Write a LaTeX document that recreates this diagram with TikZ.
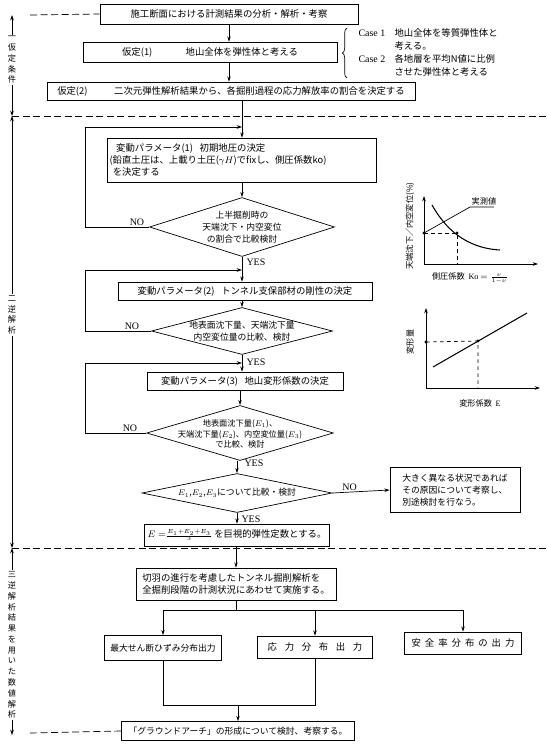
\documentclass[tikz,border=0pt]{standalone}
\usepackage{fontspec}
\setmainfont{Noto Sans CJK JP}
\newfontfamily\lat{Liberation Serif}
\usepackage{tikz}
\usetikzlibrary{shapes.geometric}
\usetikzlibrary{arrows.meta}
\usetikzlibrary{positioning}
\usetikzlibrary{decorations.pathreplacing}

\begin{document}
\begin{tikzpicture}[x=0.3mm, y=-0.3mm, line width=0.6pt, >={Stealth[length=4.5pt,width=3pt]},
  every node/.style={font=\fontsize{8}{10}\selectfont, inner sep=1pt},
  box/.style={draw, minimum height=5.4mm, inner sep=2pt},
  dmd/.style={draw, diamond, inner sep=0pt},
  dtxt/.style={align=center, font=\fontsize{7.5}{10}\selectfont},
  yn/.style={font=\lat\fontsize{8.5}{10}\selectfont},
  vtxt/.style={fill=white, align=center, font=\fontsize{7}{9.2}\selectfont, inner sep=1pt},
  sep/.style={dash pattern=on 6pt off 3pt}]
  \useasboundingbox (0,0) rectangle (547,747);

  % assumptions
  \node (top)  [box, minimum width=77.4mm, minimum height=6mm] at (229,14) {施工断面における計測結果の分析・解析・考察};
  \node (asm1) [box, minimum width=76.2mm, minimum height=6mm] at (210,52) {仮定(1)\hspace{10mm}地山全体を弾性体と考える};
  \node (asm2) [box, minimum width=110.4mm] at (231,91) {仮定(2)\hspace{8mm}二次元弾性解析結果から、各掘削過程の応力解放率の割合を決定する};
  \draw[->] (top.south) -- (top.south |- asm1.north);
  \draw[->] (top.south |- asm1.south) -- (top.south |- asm2.north);

  \draw[decorate, decoration={brace, amplitude=4pt}] (347,78) -- (347,28);
  \node (c1)  [yn, anchor=west] at (357,33) {Case 1};
  \node (c1a) [anchor=west] at (393,33) {地山全体を等質弾性体と};
  \node (c1b) [anchor=west] at (393,46) {考える。};
  \node (c2)  [yn, anchor=west] at (357,59) {Case 2};
  \node (c2a) [anchor=west] at (393,59) {各地層を平均N値に比例};
  \node (c2b) [anchor=west] at (393,72) {させた弾性体と考える};

  % back analysis
  \node (p1) [box, align=left, text width=79.5mm, minimum height=13.2mm] at (242,160)
    {\hspace{2mm}変動パラメータ(1)\hspace{2mm}初期地圧の決定\\
     (鉛直土圧は、上載り土圧($\gamma H$)でfixし、側圧係数ko)\\
     \hspace{1mm}を決定する};
  \coordinate (m1) at (242,127);
  \draw[->] (asm2.south -| p1.north) -- (p1.north);

  \node (d1) [dmd, minimum width=55.5mm, minimum height=17.7mm] at (242,227) {};
  \node (d1t) [dtxt] at (d1) {上半掘削時の\\天端沈下・内空変位\\の割合で比較検討};
  \draw[->] (p1.south -| d1.north) -- (d1.north);
  \node (no1) [yn] at (137,222) {NO};
  \draw[->] (d1.west) -| (85,127) -- (m1);
  \node (yes1) [yn, anchor=west] at (245,262) {YES};

  \node (p2) [box, minimum width=76.2mm] at (245,291) {変動パラメータ(2)\hspace{2mm}トンネル支保部材の剛性の決定};
  \coordinate (m2) at (242,270);
  \draw[->] (d1.south) -- (d1.south |- p2.north);

  \node (d2) [dmd, minimum width=54.3mm, minimum height=14.1mm] at (242,331) {};
  \node (d2t) [dtxt] at (d2) {地表面沈下量、天端沈下量\\内空変位量の比較、検討};
  \draw[->] (d1.south |- p2.south) -- (d2.north);
  \node (no2) [yn] at (132,326) {NO};
  \draw[->] (d2.west) -| (85,270) -- (m2);
  \node (yes2) [yn, anchor=west] at (245,362) {YES};

  \node (p3) [box, minimum width=58.8mm] at (245,381) {変動パラメータ(3)\hspace{2mm}地山変形係数の決定};
  \coordinate (m3) at (242,363);
  \draw[->] (d2.south) -- (d2.south |- p3.north);

  \node (d3) [dmd, minimum width=56mm, minimum height=16.5mm] at (240,433) {};
  \node (d3t) [dtxt, font=\fontsize{7}{9}\selectfont] at ([yshift=-1pt]d3.center) {地表面沈下量($E_1$)、\\天端沈下量($E_2$)、内空変位量($E_3$)\\で比較、検討};
  \draw[->] (d3.north |- p3.south) -- (d3.north);
  \node (no3) [yn] at (130,428) {NO};
  \draw[->] (d3.west) -| (85,363) -- (m3);
  \node (yes3) [yn, anchor=west] at (243,463) {YES};

  \node (d4) [dmd, minimum width=57mm, minimum height=11.7mm] at (237,493) {};
  \node (d4t) [dtxt] at (d4) {$E_1$,$E_2$,$E_3$について比較・検討};
  \draw[->] (d3.south -| d4.north) -- (d4.north);

  \node (rbox) [box, align=left, minimum width=39mm, minimum height=13.5mm, font=\fontsize{7.5}{10}\selectfont] at (455,490)
    {大きく異なる状況であれば\\その原因について考察し、\\別途検討を行なう。};
  \draw[->] (d4.east) -- node (no4) [yn, above, pos=0.3] {NO} (rbox.west);
  \node (yes4) [yn, anchor=west] at (240,519) {YES};

  \node (ebox) [box, minimum width=55.5mm, minimum height=6.6mm] at (237,535) {$E=${\fontsize{7}{8}\selectfont$\frac{E_1+E_2+E_3}{3}$}\ を巨視的弾性定数とする。};
  \draw[->] (d4.south) -- (d4.south |- ebox.north);

  % numerical analysis
  \node (abox) [box, align=left, minimum width=60mm, minimum height=9.6mm] at (236,584)
    {切羽の進行を考慮したトンネル掘削解析を\\全掘削段階の計測状況にあわせて実施する。};
  \draw[->] (ebox.south -| abox.north) -- (abox.north);

  \node (o1) [box, minimum width=35.1mm, minimum height=7.5mm, font=\fontsize{7.5}{9}\selectfont] at (163,648) {最大せん断ひずみ分布出力};
  \node (o2) [box, minimum width=34.5mm, minimum height=6.6mm] at (315,647) {応\hspace{2.3mm}力\hspace{2.3mm}分\hspace{2.3mm}布\hspace{2.3mm}出\hspace{2.3mm}力};
  \node (o3) [box, minimum width=35.1mm, minimum height=6.6mm] at (463,643) {安\hspace{1.2mm}全\hspace{1.2mm}率\hspace{1.2mm}分\hspace{1.2mm}布\hspace{1.2mm}の\hspace{1.2mm}出\hspace{1.2mm}力};
  \draw (abox.south) -- ++(0,10) coordinate (br);
  \draw (br -| o1.north) -- (br -| o3.north);
  \draw[->] (br -| o1.north) -- (o1.north);
  \draw[->] (br -| o2.north) -- (o2.north);
  \draw[->] (br -| o3.north) -- (o3.north);

  \node (gbox) [box, minimum width=69.9mm, minimum height=5.7mm, font=\fontsize{7.5}{9}\selectfont] at (238,731) {「グラウンドアーチ」の形成について検討、考察する。};
  \coordinate (mg) at (238,705);
  \draw (o1.south) |- (o2.south |- mg) -- (o2.south);
  \draw[->] (mg) -- (gbox.north);

  % sections
  \draw[sep] (30,15) -- (top.west);
  \draw[sep] (12,116) -- (547,116);
  \draw[sep] (12,548) -- (547,548);
  \draw[sep] (30,733) -- (gbox.west);
  \draw[<->] (12,15) -- (12,116);
  \draw[<->] (12,116) -- (12,548);
  \draw[<->] (12,548) -- (12,735);
  \node (s1) [vtxt] at (12,60) {一\\仮\\定\\条\\件};
  \node (s2) [vtxt] at (12,315) {二\\逆\\解\\析};
  \node (s3) [vtxt] at (12,645) {三\\逆\\解\\析\\結\\果\\を\\用\\い\\た\\数\\値\\解\\析};

  % graph: side pressure coefficient
  \draw[->] (424,264) -- (424,196);
  \draw[->] (424,264) -- (538,264);
  \draw[line width=0.9pt] (432,205) .. controls (445,228) and (465,248) .. (500,250);
  \draw[dashed] (424,233) -- (457,233) -- (457,264);
  \fill (424,233) circle (1.3pt);
  \fill (457,233) circle (1.3pt);
  \draw (424,233) -- (470,207) -- (494,207);
  \node (g1m) [anchor=south, font=\fontsize{7}{8}\selectfont] at (484,207) {実測値};
  \node (g1y) [rotate=90, font=\fontsize{7}{8}\selectfont] at (410,226) {天端沈下／内空変位(\%)};
  \node (g1x) [font=\fontsize{7}{8}\selectfont] at (470,278) {側圧係数\ \ {\lat Ko} $=\frac{\nu}{1-\nu}$};

  % graph: deformation modulus
  \draw[->] (426,388) -- (426,308);
  \draw[->] (426,388) -- (540,388);
  \draw[line width=0.9pt] (433,367) -- (527,313);
  \draw[dashed] (426,342) -- (478,341) -- (478,388);
  \fill (426,342) circle (1.3pt);
  \fill (478,341) circle (1.3pt);
  \node (g2y) [rotate=90, font=\fontsize{7}{8}\selectfont] at (410,342) {変形量};
  \node (g2x) [font=\fontsize{7}{8}\selectfont] at (480,403) {変形係数\ \ {\lat E}};
\end{tikzpicture}
\end{document}
